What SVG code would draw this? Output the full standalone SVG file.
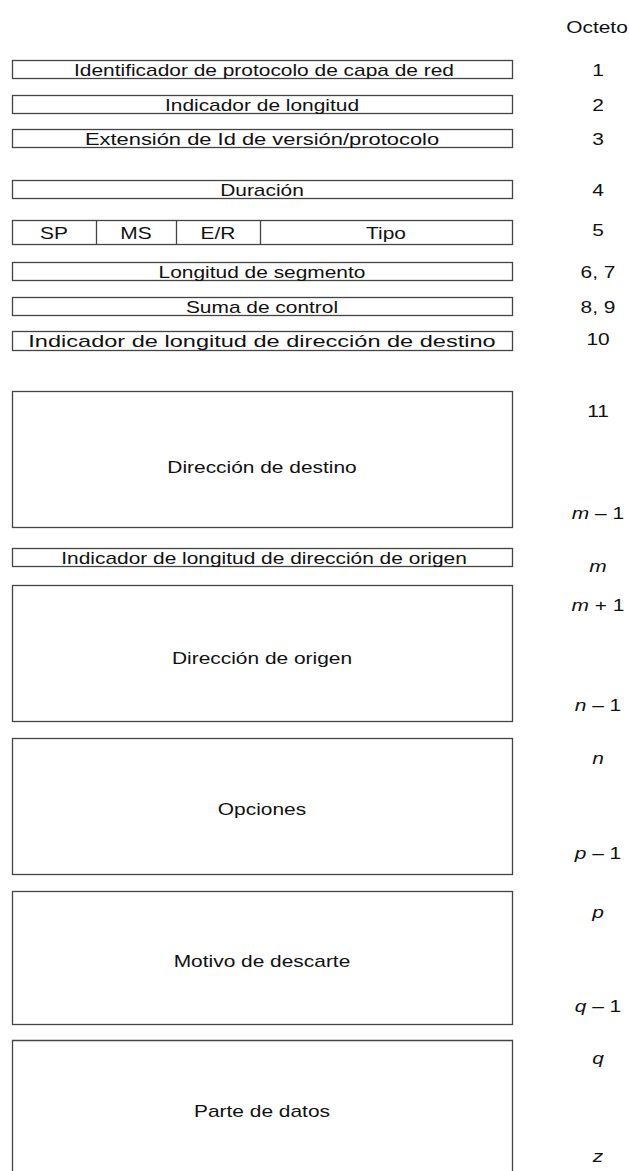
<svg xmlns="http://www.w3.org/2000/svg" width="629" height="1171" viewBox="0 0 629 1171">
<style>
.b{fill:#fff;stroke:#444;stroke-width:1.3}
.t{font-family:"Liberation Sans",Arial,sans-serif;font-size:17px;fill:#111;text-anchor:middle}
.i{font-style:italic}
</style>
<rect width="629" height="1171" fill="#fff"/>
<text class="t" transform="translate(597,33) scale(1.23,1)">Octeto</text>
<g id="f1"><rect class="b" x="12.5" y="60.5" width="500" height="18"/><text class="t" transform="translate(264,75.5) scale(1.23,1)">Identificador de protocolo de capa de red</text><text class="t" transform="translate(598,75.5) scale(1.23,1)">1</text></g>
<g id="f2"><rect class="b" x="12.5" y="95.5" width="500" height="18"/><text class="t" transform="translate(262,110.5) scale(1.23,1)">Indicador de longitud</text><text class="t" transform="translate(598,110.5) scale(1.23,1)">2</text></g>
<g id="f3"><rect class="b" x="12.5" y="129.5" width="500" height="18"/><text class="t" transform="translate(262,144.5) scale(1.23,1)" textLength="288" lengthAdjust="spacingAndGlyphs">Extensión de Id de versión/protocolo</text><text class="t" transform="translate(598,144.5) scale(1.23,1)">3</text></g>
<g id="f4"><rect class="b" x="12.5" y="180.5" width="500" height="18"/><text class="t" transform="translate(262,195.5) scale(1.23,1)">Duración</text><text class="t" transform="translate(598,195.5) scale(1.23,1)">4</text></g>
<g id="f5"><rect class="b" x="12.5" y="220.5" width="500" height="24"/>
<line class="b" x1="96.5" y1="220.5" x2="96.5" y2="244.5"/><line class="b" x1="176.5" y1="220.5" x2="176.5" y2="244.5"/><line class="b" x1="260.5" y1="220.5" x2="260.5" y2="244.5"/>
<text class="t" transform="translate(54,238.5) scale(1.23,1)">SP</text><text class="t" transform="translate(136,238.5) scale(1.23,1)">MS</text><text class="t" transform="translate(218,238.5) scale(1.23,1)">E/R</text><text class="t" transform="translate(386,238.5) scale(1.23,1)">Tipo</text><text class="t" transform="translate(598,235.5) scale(1.23,1)">5</text></g>
<g id="f6"><rect class="b" x="12.5" y="262.5" width="500" height="18"/><text class="t" transform="translate(262,277.5) scale(1.23,1)">Longitud de segmento</text><text class="t" transform="translate(598,277.5) scale(1.23,1)">6,  7</text></g>
<g id="f7"><rect class="b" x="12.5" y="297.5" width="500" height="18"/><text class="t" transform="translate(262,312.5) scale(1.23,1)">Suma de control</text><text class="t" transform="translate(598,312.5) scale(1.23,1)">8,  9</text></g>
<g id="f8"><rect class="b" x="12.5" y="331.5" width="500" height="19"/><text class="t" transform="translate(262,346.5) scale(1.23,1)" textLength="380" lengthAdjust="spacingAndGlyphs">Indicador de longitud de dirección de destino</text><text class="t" transform="translate(598,344.5) scale(1.23,1)">10</text></g>
<g id="f9"><rect class="b" x="12.5" y="391.5" width="500" height="136"/><text class="t" transform="translate(262,472.5) scale(1.23,1)">Dirección de destino</text><text class="t" transform="translate(598,416.5) scale(1.23,1)">11</text><text class="t" transform="translate(598,518.5) scale(1.23,1)"><tspan class="i">m</tspan> – 1</text></g>
<g id="f10"><rect class="b" x="12.5" y="548.5" width="500" height="18"/><text class="t" transform="translate(264,563.5) scale(1.23,1)">Indicador de longitud de dirección de origen</text><text class="t i" transform="translate(598,571.5) scale(1.23,1)">m</text></g>
<g id="f11"><rect class="b" x="12.5" y="585.5" width="500" height="136"/><text class="t" transform="translate(262,663.5) scale(1.23,1)">Dirección de origen</text><text class="t" transform="translate(598,610.5) scale(1.23,1)"><tspan class="i">m</tspan> + 1</text><text class="t" transform="translate(598,710.5) scale(1.23,1)"><tspan class="i">n</tspan> – 1</text></g>
<g id="f12"><rect class="b" x="12.5" y="738.5" width="500" height="136"/><text class="t" transform="translate(262,814.5) scale(1.23,1)">Opciones</text><text class="t i" transform="translate(598,763.5) scale(1.23,1)">n</text><text class="t" transform="translate(598,858.5) scale(1.23,1)"><tspan class="i">p</tspan> – 1</text></g>
<g id="f13"><rect class="b" x="12.5" y="891.5" width="500" height="133"/><text class="t" transform="translate(262,966.5) scale(1.23,1)">Motivo de descarte</text><text class="t i" transform="translate(598,917.5) scale(1.23,1)">p</text><text class="t" transform="translate(598,1011.5) scale(1.23,1)"><tspan class="i">q</tspan> – 1</text></g>
<g id="f14"><path class="b" d="M12.5 1171V1040.5H512.5V1171"/><text class="t" transform="translate(262,1116.5) scale(1.23,1)">Parte de datos</text><text class="t i" transform="translate(598,1063.5) scale(1.23,1)">q</text><text class="t i" transform="translate(598,1161.5) scale(1.23,1)">z</text></g>
<g id="connectors"/>
</svg>
